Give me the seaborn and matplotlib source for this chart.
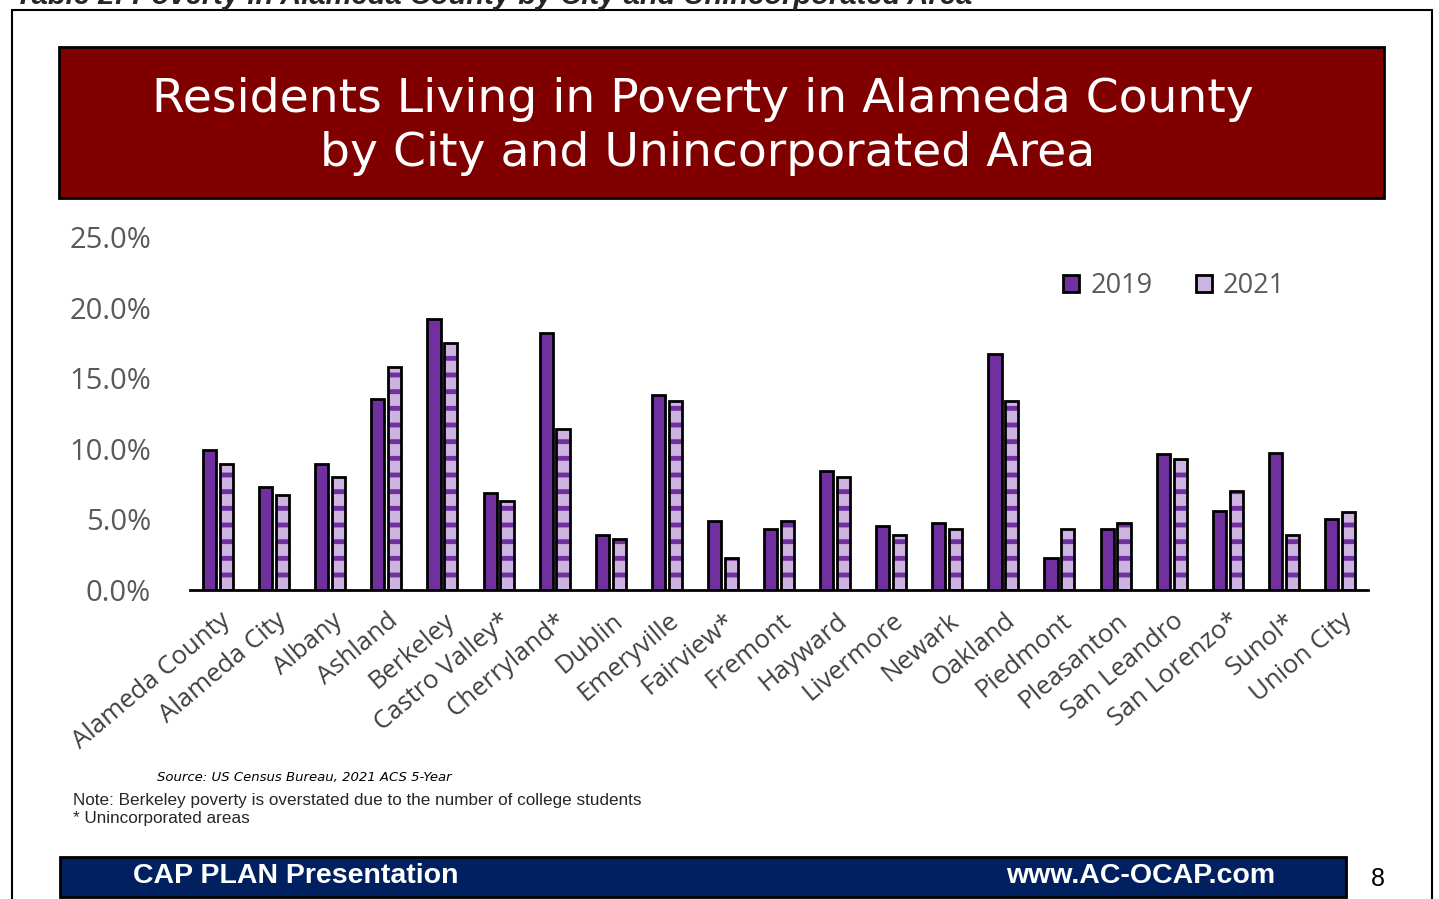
import matplotlib
matplotlib.use("Agg")
import matplotlib.pyplot as plt
from matplotlib.patches import Rectangle, Patch
from matplotlib.lines import Line2D
import matplotlib.transforms as mtransforms
import seaborn as sns
import pandas as pd

categories = ["Alameda County", "Alameda City", "Albany", "Ashland", "Berkeley",
              "Castro Valley*", "Cherryland*", "Dublin", "Emeryville", "Fairview*",
              "Fremont", "Hayward", "Livermore", "Newark", "Oakland", "Piedmont",
              "Pleasanton", "San Leandro", "San Lorenzo*", "Sunol*", "Union City"]
values_2019 = [9.9, 7.3, 8.9, 13.5, 19.2, 6.9, 18.2, 3.9, 13.8, 4.9,
               4.3, 8.4, 4.5, 4.75, 16.7, 2.3, 4.3, 9.6, 5.6, 9.7, 5.0]
values_2021 = [8.9, 6.7, 8.0, 15.8, 17.5, 6.3, 11.4, 3.6, 13.4, 2.3,
               4.9, 8.0, 3.9, 4.3, 13.4, 4.3, 4.75, 9.3, 7.0, 3.9, 5.5]
series = ["2019", "2021"]
y_ticks = [0, 5, 10, 15, 20, 25]

df = pd.DataFrame({
    "area": categories * 2,
    "year": [series[0]] * len(categories) + [series[1]] * len(categories),
    "pct": values_2019 + values_2021,
})

C_DARK = "#7030A0"
C_LIGHT = "#CDB3DF"

sns.set_style("white")
plt.rcParams["font.family"] = ["Open Sans", "DejaVu Sans"]
plt.rcParams["hatch.linewidth"] = 3.5

W, H = 1439, 899
fig = plt.figure(figsize=(W / 100, H / 100), dpi=100)
fig.patch.set_facecolor("white")

ax = fig.add_axes([190 / W, 1 - 590 / H, (1368 - 190) / W, (590 - 237) / H])
sns.barplot(data=df, x="area", y="pct", hue="year", order=categories,
            hue_order=series, palette=[C_DARK, C_LIGHT], width=0.6, gap=0.22,
            edgecolor="black", linewidth=2, saturation=1, ax=ax, legend=False)
# striped 2021 bars: purple hatch, then black outline on top
for bar in list(ax.containers[1]):
    bar.set_edgecolor(C_DARK)
    bar.set_linewidth(0)
    bar.set_hatch("-")
    ax.add_patch(Rectangle(bar.get_xy(), bar.get_width(), bar.get_height(),
                           fill=False, edgecolor="black", linewidth=2, zorder=bar.get_zorder() + 0.1))

ax.set_xlim(-0.5, len(categories) - 0.5)
ax.set_ylim(0, 25)
ax.set_yticks(y_ticks)
ax.set_yticklabels([f"{v:.1f}%" for v in y_ticks], fontsize=21, color="#595959")
ax.set_xlabel("")
ax.set_ylabel("")
ax.tick_params(axis="both", length=0)
ax.tick_params(axis="y", pad=28)
ax.set_xticks(range(len(categories)))
ax.set_xticklabels(categories, rotation=40, ha="right", va="center", rotation_mode="anchor",
                   fontsize=18.5, color="#404040")
ax.tick_params(axis="x", pad=20)
offset = mtransforms.ScaledTranslation(9 / 100, 0, fig.dpi_scale_trans)
for lab in ax.get_xticklabels():
    lab.set_transform(lab.get_transform() + offset)
for s in ["left", "right", "top"]:
    ax.spines[s].set_visible(False)
ax.spines["bottom"].set_color("black")
ax.spines["bottom"].set_linewidth(2)
ax.patch.set_alpha(0)

handles = [Patch(facecolor=C_DARK, edgecolor="black", linewidth=2, label="2019"),
           Patch(facecolor=C_LIGHT, edgecolor="black", linewidth=2, label="2021")]
leg = ax.legend(handles=handles, ncol=2, frameon=False, loc="center",
                bbox_to_anchor=(1174 / W, 1 - 286 / H), bbox_transform=fig.transFigure,
                fontsize=19.5, handlelength=0.6, handleheight=0.6, columnspacing=1.6,
                handletextpad=0.4)
for t in leg.get_texts():
    t.set_color("#595959")

# frame lines
fig.add_artist(Line2D([12 / W, 1432 / W], [1 - 10 / H, 1 - 10 / H], color="black", lw=1.5))
fig.add_artist(Line2D([12 / W, 12 / W], [0, 1 - 10 / H], color="black", lw=1.5))
fig.add_artist(Line2D([1432 / W, 1432 / W], [0, 1 - 10 / H], color="black", lw=1.5))

# cut-off heading at top (partly outside the slide, as in the reference)
fig.text(15 / W, 1 - 4 / H, "Table 2: Poverty in Alameda County by City and Unincorporated Area",
         fontsize=21, fontweight="bold", fontstyle="italic", family="Liberation Sans",
         ha="left", va="baseline")

# title box
fig.add_artist(Rectangle((59 / W, 1 - 198 / H), (1384 - 59) / W, (198 - 47) / H,
                         transform=fig.transFigure, facecolor="#800000",
                         edgecolor="black", linewidth=2))
fig.text(703 / W, 1 - 99 / H, "Residents Living in Poverty in Alameda County",
         fontsize=34, color="white", ha="center", va="center", family="DejaVu Sans")
fig.text(708 / W, 1 - 154 / H, "by City and Unincorporated Area",
         fontsize=34, color="white", ha="center", va="center", family="DejaVu Sans")

# source and notes
fig.text(157 / W, 1 - 778 / H, "Source: US Census Bureau, 2021 ACS 5-Year",
         fontsize=9.5, fontstyle="italic", ha="left", va="center", color="black",
         family="DejaVu Sans")
fig.text(73 / W, 1 - 801 / H, "Note: Berkeley poverty is overstated due to the number of college students",
         fontsize=12.3, family="Liberation Sans", ha="left", va="center")
fig.text(73 / W, 1 - 819 / H, "* Unincorporated areas",
         fontsize=12.3, family="Liberation Sans", ha="left", va="center")

# bottom banner
fig.add_artist(Rectangle((60 / W, 1 - 897 / H), (1346 - 60) / W, 40 / H,
                         transform=fig.transFigure, facecolor="#002060",
                         edgecolor="black", linewidth=2))
fig.text(133 / W, 1 - 876 / H, "CAP PLAN Presentation", fontsize=20.5, fontweight="bold",
         family="Liberation Sans", color="white", ha="left", va="center")
fig.text(1275 / W, 1 - 876 / H, "www.AC-OCAP.com", fontsize=20.5, fontweight="bold",
         family="Liberation Sans", color="white", ha="right", va="center")
fig.text(1378 / W, 1 - 879 / H, "8", fontsize=18, family="Liberation Sans",
         color="black", ha="center", va="center")

fig.savefig("out.png", dpi=100)
